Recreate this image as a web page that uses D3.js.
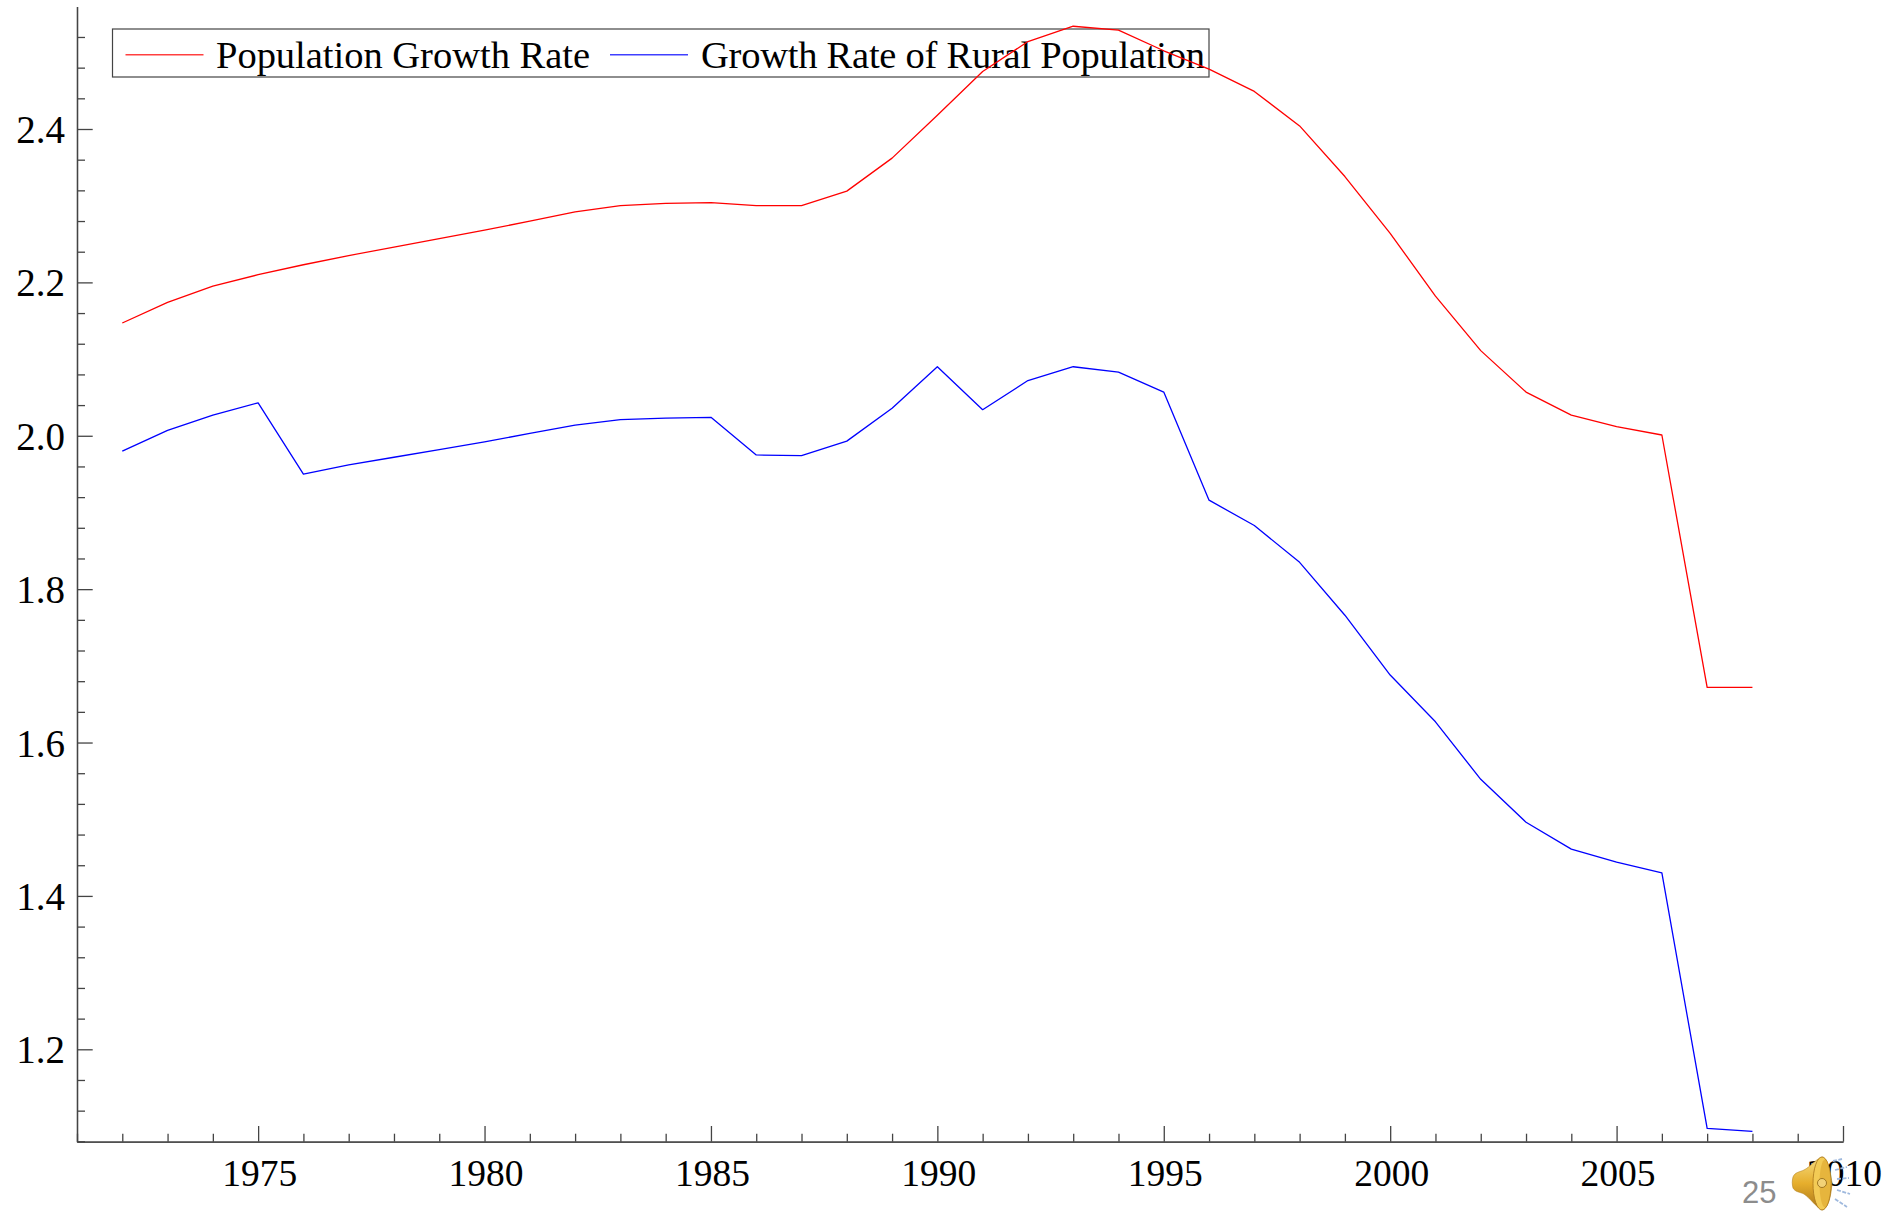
<!DOCTYPE html>
<html><head><meta charset="utf-8">
<script src="https://cdnjs.cloudflare.com/ajax/libs/d3/7.8.5/d3.min.js"></script>
<style>html,body{margin:0;padding:0;background:#fff}svg{display:block}
.ax text{font-family:"Liberation Serif",serif;fill:#000}
.ax.xa text{font-size:37.5px}
.ax.ya text{font-size:39px}
.ax line,.ax path{stroke:#444;stroke-width:1.3px;fill:none}
.leg{font-family:"Liberation Serif",serif;font-size:38.5px;fill:#000}
</style></head><body><svg id="c" width="1888" height="1213"></svg>
<script>
const years = d3.range(1972, 2009);
const populationGrowth = [2.147,2.174,2.195,2.210,2.223,2.235,2.246,2.257,2.268,2.280,2.292,2.300,2.303,2.304,2.300,2.300,2.319,2.362,2.418,2.475,2.514,2.534,2.529,2.502,2.478,2.449,2.404,2.338,2.264,2.182,2.111,2.057,2.027,2.012,2.001,1.672,1.672];
const ruralGrowth = [1.980,2.007,2.027,2.043,1.950,1.962,1.972,1.982,1.992,2.003,2.014,2.021,2.023,2.024,1.975,1.974,1.993,2.036,2.090,2.034,2.072,2.090,2.083,2.057,1.916,1.883,1.835,1.766,1.688,1.627,1.552,1.496,1.461,1.444,1.430,1.097,1.093];
const xMajor = [1975,1980,1985,1990,1995,2000,2005,2010];
const yMajor = [1.2,1.4,1.6,1.8,2.0,2.2,2.4];
const seriesNames = ["Population Growth Rate","Growth Rate of Rural Population"];
const seriesColors = ["#ff0000","#0000ff"];

const svg = d3.select("#c");
const x = d3.scaleLinear().domain([1971,2010]).range([77,1843]);
const y = d3.scaleLinear().domain([1.2,2.4]).range([1049.3,129]);
const axisBottomY = 1141.7, axisLeftX = 77, axisTopY = 6.5;

// x axis
const xMinorVals = d3.range(1971,2011).filter(v=>!xMajor.includes(v));
svg.append("g").attr("class","ax").attr("transform",`translate(0,${axisBottomY})`)
  .call(d3.axisBottom(x).tickValues(xMinorVals).tickSizeInner(-8).tickSizeOuter(0).tickFormat(""));
svg.append("g").attr("class","ax xa").attr("transform",`translate(0,${axisBottomY})`)
  .call(d3.axisBottom(x).tickValues(xMajor).tickSizeInner(-15.7).tickSizeOuter(0).tickPadding(19).tickFormat(d3.format("d")))
  .call(g=>g.selectAll("text").attr("dy",null).attr("x",1).attr("y",44.5));

// y axis
const yMinorVals = d3.range(27,64).map(v=>v*0.04).filter(v=>!yMajor.some(m=>Math.abs(m-v)<1e-6));
const yAxisScale = y.copy().domain([y.invert(axisBottomY),y.invert(axisTopY)]).range([axisBottomY,axisTopY]);
svg.append("g").attr("class","ax").attr("transform",`translate(${axisLeftX},0)`)
  .call(d3.axisLeft(yAxisScale).tickValues(yMinorVals).tickSizeInner(-8).tickSizeOuter(0).tickFormat(""));
svg.append("g").attr("class","ax ya").attr("transform",`translate(${axisLeftX},0)`)
  .call(d3.axisLeft(yAxisScale).tickValues(yMajor).tickSizeInner(-15.7).tickSizeOuter(0).tickPadding(12).tickFormat(d3.format(".1f")))
  .call(g=>g.selectAll("text").attr("dy",null).attr("y",13.6));

// legend box
svg.append("rect").attr("x",112.5).attr("y",29).attr("width",1096.5).attr("height",48)
  .attr("fill","none").attr("stroke","#444").attr("stroke-width",1.2);
const legendLines = [[125.5,203.5],[610,688]];
const legendText = [[216,374],[701,504]];
seriesNames.forEach((n,i)=>{
  svg.append("line").attr("x1",legendLines[i][0]).attr("x2",legendLines[i][1]).attr("y1",54.7).attr("y2",54.7)
    .attr("stroke",seriesColors[i]).attr("stroke-opacity",.75).attr("stroke-width",1.5);
  svg.append("text").attr("class","leg").attr("x",legendText[i][0]).attr("y",68)
    .attr("textLength",legendText[i][1]).attr("lengthAdjust","spacing").text(n);
});

// lines
const lineGen = d3.line().x((d,i)=>x(years[i])).y(d=>y(d));
[populationGrowth,ruralGrowth].forEach((s,i)=>{
  svg.append("path").attr("d",lineGen(s)).attr("fill","none")
    .attr("stroke",seriesColors[i]).attr("stroke-width",1.3).attr("stroke-linejoin","round");
});

// slide number and speaker icon
svg.append("text").attr("x",1742).attr("y",1203).attr("font-family","'Liberation Sans',sans-serif")
  .attr("font-size",31).attr("fill","#8c8c8c").text("25");
const defs = svg.append("defs");
const g1 = defs.append("linearGradient").attr("id","gold").attr("x1",0).attr("x2",0).attr("y1",0).attr("y2",1);
g1.append("stop").attr("offset","0%").attr("stop-color","#f5dc80");
g1.append("stop").attr("offset","50%").attr("stop-color","#e6ae2c");
g1.append("stop").attr("offset","100%").attr("stop-color","#a8741a");
const sp = svg.append("g").attr("transform","translate(1792,1157)");
[[31,4,35,2],[33,13,40,10],[35,22,42,21],[35,33,43,37],[33,42,40,50]].forEach(d=>{
  sp.append("line").attr("x1",d[0]+10).attr("y1",d[1]).attr("x2",d[2]+15).attr("y2",d[3])
    .attr("stroke","#9fb9de").attr("stroke-width",1.8).attr("stroke-dasharray","4 1.5");
});
sp.append("path").attr("d","M1,20 C3,15 8,15 12,13 C18,10 24,2 30,0 C35,0 38,12 40,26 C39,40 36,52 30,53 C24,50 18,41 12,37 C8,35 3,35 1,31 C0,27 0,24 1,20 Z")
  .attr("fill","url(#gold)").attr("stroke","#b5831f").attr("stroke-width",.6);
sp.append("ellipse").attr("cx",30).attr("cy",26.5).attr("rx",9).attr("ry",26.5).attr("fill","#f3cb55").attr("stroke","#a9761a").attr("stroke-width",.8);
sp.append("ellipse").attr("cx",33).attr("cy",26.5).attr("rx",5.5).attr("ry",24).attr("fill","#d89c22").attr("opacity",.45);
sp.append("circle").attr("cx",30).attr("cy",26).attr("r",4.5).attr("fill","#f2d277").attr("stroke","#8a6212").attr("stroke-width",.8);
</script></body></html>
